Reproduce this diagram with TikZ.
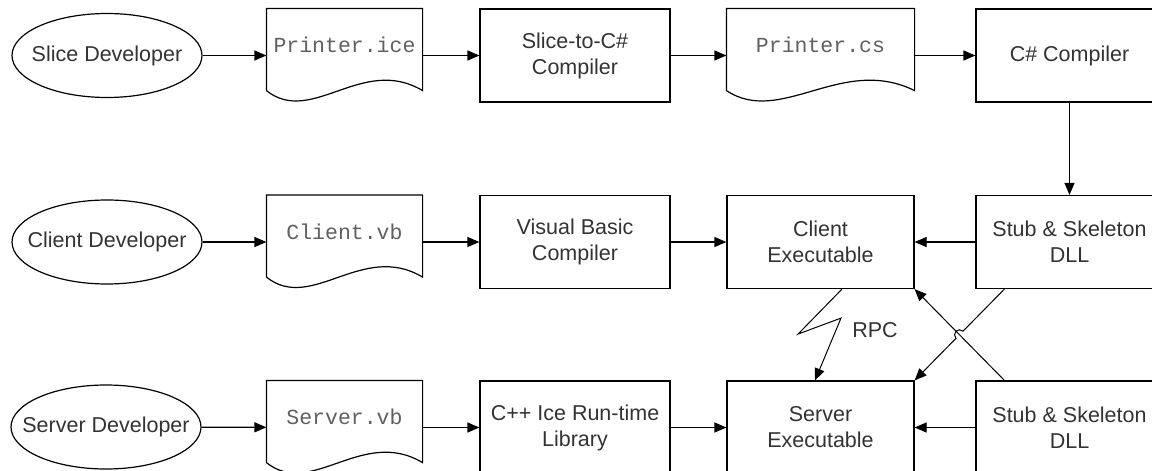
\documentclass[tikz,border=0pt]{standalone}
\usepackage{fontspec}
\setmainfont{Liberation Sans}
\newfontfamily\codefont{Liberation Mono}
\usepackage{tikz}
\usetikzlibrary{arrows.meta}
\usetikzlibrary{shapes.geometric,calc}
\tikzset{>={Triangle[width=10pt,length=12pt]}}
\definecolor{textgray}{HTML}{333333}
\definecolor{codegray}{HTML}{606060}
\tikzset{
  actor/.style={draw, ellipse, minimum width=190pt, minimum height=84pt,
    inner xsep=-20pt, inner ysep=0pt},
  stepbox/.style={draw, rectangle, minimum width=190pt, minimum height=93pt,
    align=center, inner sep=0pt},
  docnode/.style={rectangle, minimum width=155pt, minimum height=93pt, inner sep=0pt,
    text depth=21pt, font=\codefont\fontsize{21.5}{26}\selectfont, text=codegray},
}
\newcommand{\docoutline}[1]{%
  \draw (#1.north west) -- (#1.north east) -- ($(#1.south east)+(0,12pt)$)
  .. controls ($(#1.south west)!0.613!(#1.south east)+(0,48pt)$)
  and ($(#1.south west)!0.29!(#1.south east)+(0,-24pt)$) ..
  ($(#1.south west)+(0,12pt)$) -- cycle;}

\begin{document}
\begin{tikzpicture}[line width=1.2pt, text=textgray,
  font=\fontsize{21.5}{26}\selectfont]

  \useasboundingbox (0,0) rectangle (1152pt,-471pt); %% page

  %% slice row
  \node[actor] (slicedev) at (107pt,-55.5pt) {Slice Developer};
  \node[docnode] (printerice) at (344.5pt,-55.5pt) {Printer.ice};
  \node[stepbox] (slice2cs) at (575pt,-55.5pt) {Slice-to-C\#\\Compiler};
  \node[docnode, minimum width=187pt] (printercs) at (820.5pt,-55.5pt) {Printer.cs};
  \node[stepbox, minimum width=187pt] (cscomp) at (1069.5pt,-55.5pt) {C\# Compiler};

  %% client row
  \node[actor] (clientdev) at (107pt,-242pt) {Client Developer};
  \node[docnode] (clientvb) at (344.5pt,-242pt) {Client.vb};
  \node[stepbox] (vbcomp) at (575pt,-242pt) {Visual Basic\\Compiler};
  \node[stepbox, minimum width=187pt] (client) at (820.5pt,-242pt) {Client\\Executable};
  \node[stepbox, minimum width=187pt] (stubc) at (1069.5pt,-242pt) {Stub \& Skeleton\\DLL};

  %% server row
  \node[actor] (serverdev) at (106pt,-427pt) {Server Developer};
  \node[docnode] (servervb) at (344.5pt,-427.5pt) {Server.vb};
  \node[stepbox] (icelib) at (575pt,-427.5pt) {C++ Ice Run-time\\Library};
  \node[stepbox, minimum width=187pt] (server) at (820.5pt,-427.5pt) {Server\\Executable};
  \node[stepbox, minimum width=187pt] (stubs) at (1069.5pt,-427.5pt) {Stub \& Skeleton\\DLL};

  \docoutline{printerice}
  \docoutline{printercs}
  \docoutline{clientvb}
  \docoutline{servervb}

  \draw[->] (slicedev) -- (printerice);
  \draw[->] (printerice) -- (slice2cs);
  \draw[->] (slice2cs) -- (printercs);
  \draw[->] (printercs) -- (cscomp);
  \draw[->] (cscomp) -- (stubc);

  \draw[->] (clientdev) -- (clientvb);
  \draw[->] (clientvb) -- (vbcomp);
  \draw[->] (vbcomp) -- (client);
  \draw[->] (stubc) -- (client);

  \draw[->] (serverdev) -- (servervb);
  \draw[->] (servervb) -- (icelib);
  \draw[->] (icelib) -- (server);
  \draw[->] (stubs) -- (server);

  %% rpc
  \draw[->, line width=1pt] ([xshift=21.5pt]client.south) -- ++(-44pt,-45pt)
  -- ++(43pt,16pt) -- ([xshift=-5.5pt]server.north);
  \node (rpc) at (875pt,-330pt) {RPC};

  %% crossing links
  \coordinate (stubtop) at ([xshift=29pt]stubs.north west);
  \coordinate (stubbot) at ([xshift=29pt]stubc.south west);
  \coordinate (hop) at ($(stubbot)!0.5!(server.north east)$);
  \draw[->, line width=1pt] (stubtop) -- (client.south east);
  \draw[->, line width=1pt] (stubbot) -- ($(hop)!5pt!(stubbot)$)
  arc[start angle=45.6, end angle=225.6, radius=5pt] -- (server.north east);

\end{tikzpicture}
\end{document}
